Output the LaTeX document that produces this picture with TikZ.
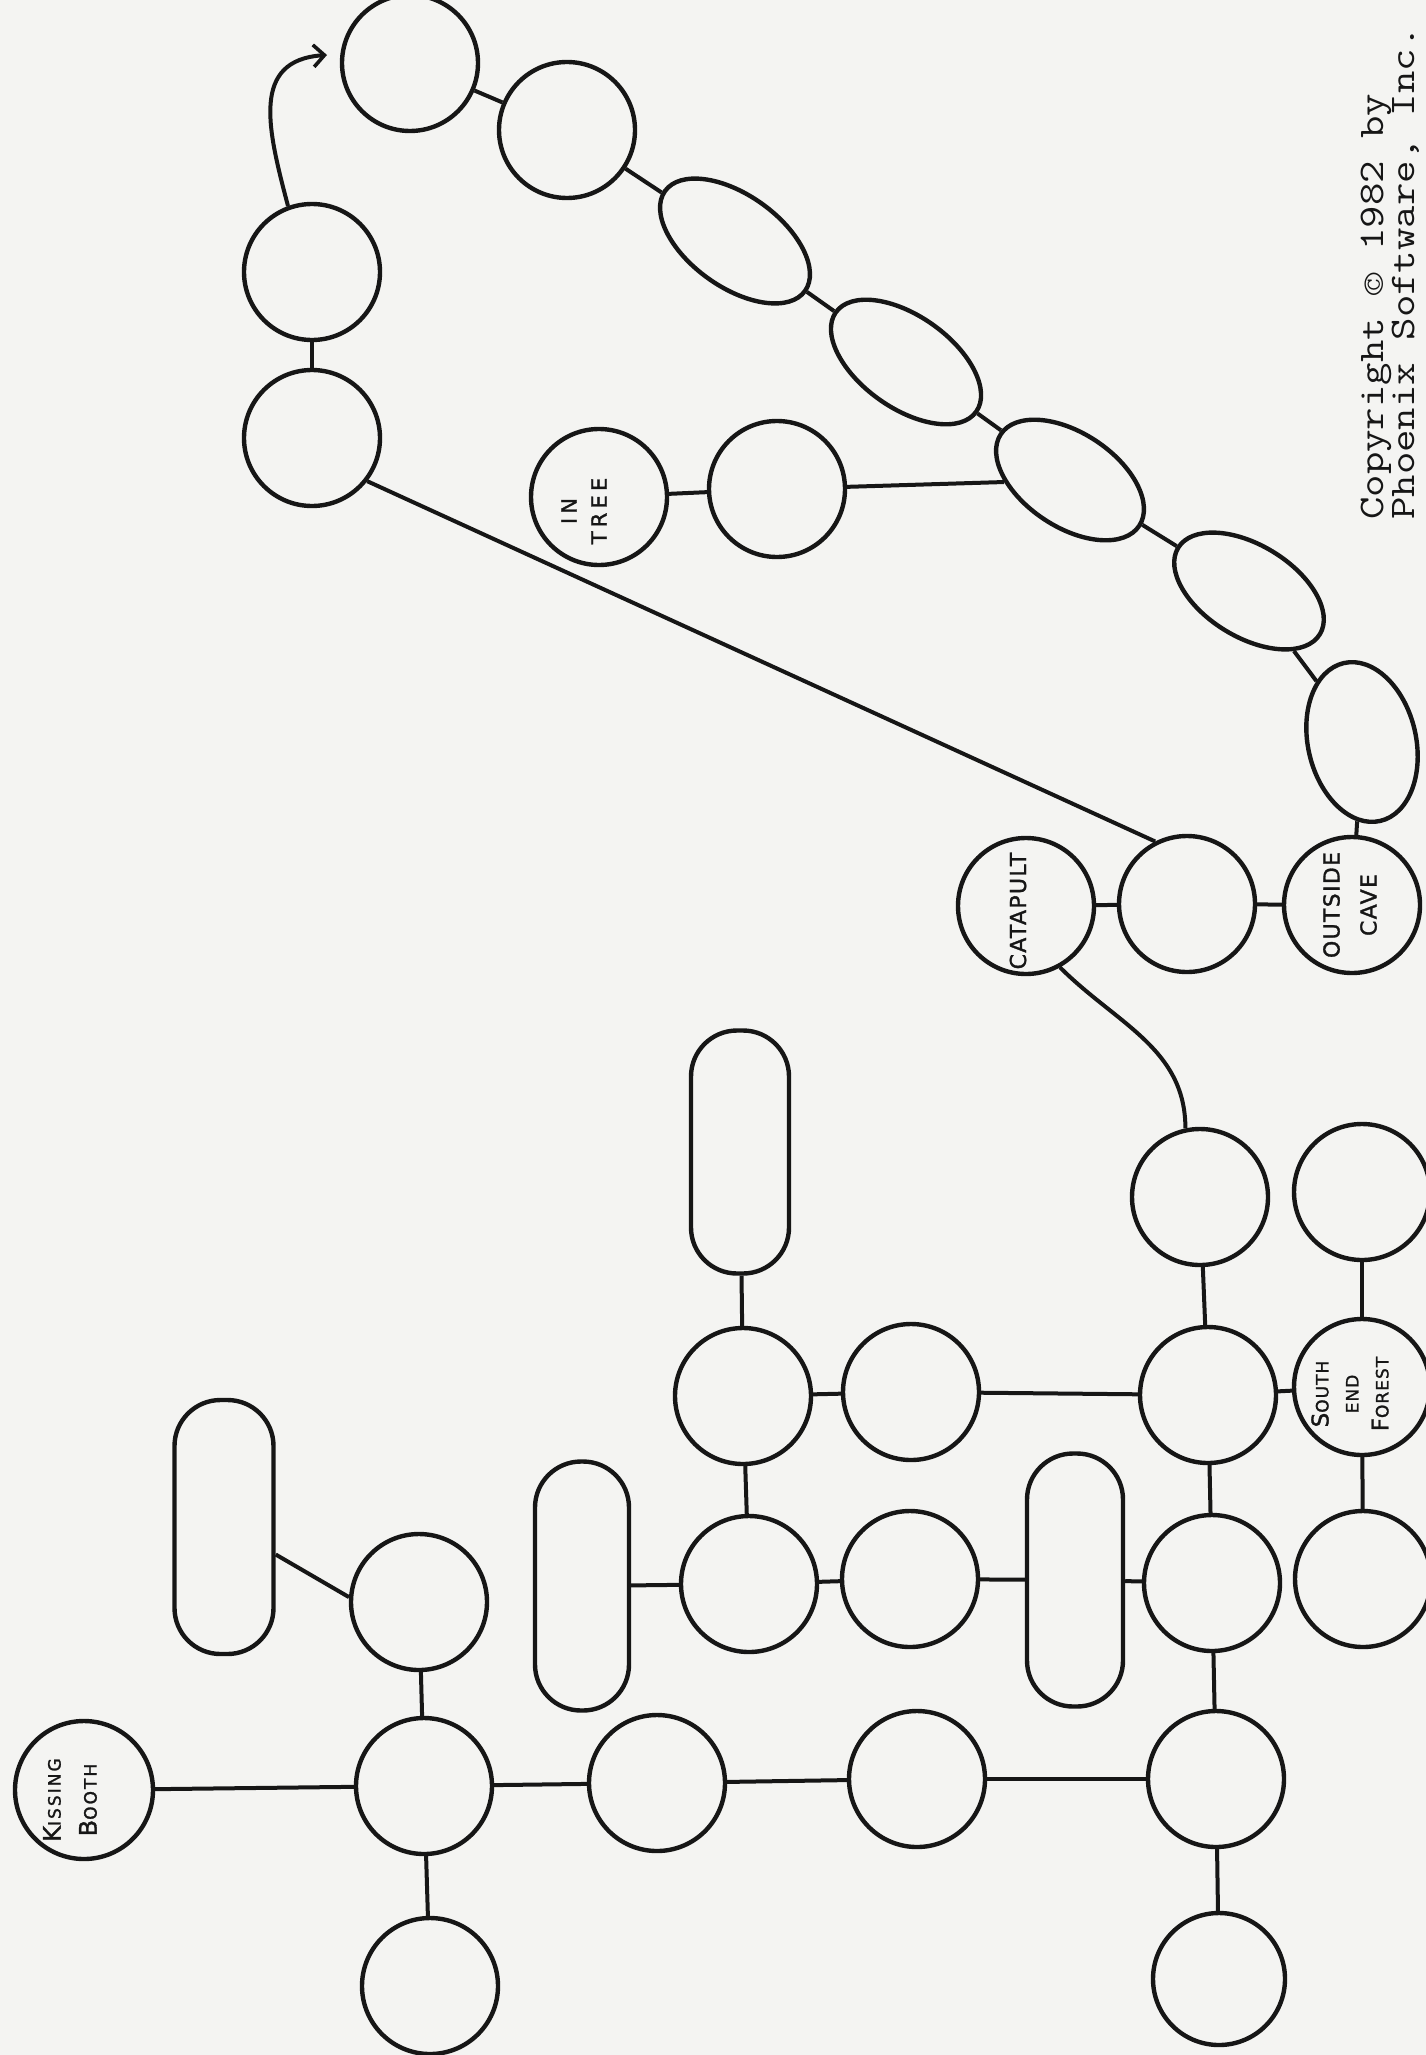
\documentclass[tikz,border=0pt]{standalone}
\usepackage{fontspec}
\setmainfont{DejaVu Sans}
\newfontfamily\hand[LetterSpace=6,FakeBold=1.4]{DejaVu Sans}
\usetikzlibrary{arrows.meta,shapes.geometric}
\definecolor{inkc}{RGB}{22,22,22}
\definecolor{paper}{RGB}{244,244,242}
\newcommand\smc[1]{{\fontsize{17}{17}\selectfont #1}}
\newcommand\typewriter{\ttfamily\fontsize{36}{31}\selectfont\addfontfeature{FakeBold=2.4}}
\begin{document}
\begin{tikzpicture}[x=1pt,y=-1pt,
  ink/.style={line width=4.4pt, draw=inkc},
  room/.style={circle, ink, minimum size=136pt, inner sep=0pt},
  lens/.style={ellipse, ink, inner sep=0pt},
  pill/.style={rectangle, ink, rounded corners=46pt, minimum width=96pt, minimum height=250pt, inner sep=0pt},
  link/.style={draw=inkc, line width=4pt},
  lab/.style={font=\hand\fontsize{22}{33}\selectfont, align=center, rotate=90, inner sep=0pt, text=inkc}]
\fill[paper] (0,0) rectangle (1426,2055);
\useasboundingbox (0,0) rectangle (1426,2055);
\clip (0,0) rectangle (1426,2055);

% top chain
\node[room] (a1) at (410,63) {};
\node[room] (a2) at (567,130) {};
\node[lens, minimum width=172pt, minimum height=92pt, rotate=-35.5] (a3) at (735,241) {};
\node[lens, minimum width=172pt, minimum height=92pt, rotate=-35.3] (a4) at (906,362) {};
\node[lens, minimum width=166pt, minimum height=94pt, rotate=-33.5] (a5) at (1070,480) {};
\node[lens, minimum width=166pt, minimum height=92pt, rotate=-31.4] (a6) at (1249,591) {};
\node[lens, minimum width=162pt, minimum height=108pt, rotate=-77] (a7) at (1362,742) {};

% left column
\node[room] (b2) at (312,272) {};
\node[room] (b1) at (312,438) {};
\coordinate (arrtip) at (327,55);

% in tree
\node[room] (intree) at (599,497) {};
\node[room] (it2) at (777,489) {};

% catapult row
\node[room] (cat) at (1026,906) {};
\node[room] (m) at (1187,904) {};
\node[room] (oc) at (1352,905) {};

\node[room] (c1) at (1200,1197) {};
\node[room] (c2) at (1362,1192) {};

\node[pill, minimum width=98pt, minimum height=243pt] (r1) at (740,1152) {};
\node[room] (d1) at (743,1396) {};
\node[room] (d2) at (911,1392) {};
\node[room] (e1) at (1208,1395) {};
\node[room] (sef) at (1362,1387) {};

\node[pill, minimum width=94pt, minimum height=249pt] (r2) at (582,1586) {};
\node[room] (f1) at (749,1584) {};
\node[room] (f2) at (910,1579) {};
\node[pill, minimum width=96pt, minimum height=253pt] (r3) at (1075,1580) {};
\node[room] (f3) at (1212,1583) {};
\node[room] (f4) at (1363,1579) {};

\node[pill, minimum width=99pt, minimum height=254pt] (g1) at (224,1527) {};
\node[room] (g2) at (419,1602) {};
\node[room, minimum size=138pt] (kb) at (84,1790) {};
\node[room] (h1) at (424,1786) {};
\node[room] (h2) at (430,1986) {};
\node[room] (h3) at (657,1783) {};
\node[room] (h4) at (917,1779) {};
\node[room] (h5) at (1216,1779) {};
\node[room, minimum size=132pt] (h6) at (1219,1979) {};

% labels
\node[lab, font=\hand\fontsize{24}{36}\selectfont\addfontfeature{LetterSpace=12}] (kbl) at (70,1800) {K\smc{ISSING}\\B\smc{OOTH}};
\node[lab, font=\hand\fontsize{21}{30}\selectfont\addfontfeature{LetterSpace=20}] (itl) at (584,511) {IN\\TREE};
\node[lab] (catl) at (1018,911) {CATAPULT};
\node[lab, font=\hand\fontsize{22}{37}\selectfont] (ocl) at (1350,905) {OUTSIDE\\CAVE};
\node[lab, font=\hand\fontsize{23}{30}\selectfont] (sefl) at (1350,1394) {S\smc{OUTH}\\\smc{END}\\F\smc{OREST}};

\node[rotate=90, anchor=north west, align=left, inner sep=0pt, text=inkc,
  font=\typewriter] (copy) at (1361,520)
  {\scalebox{1.21}[1]{Copyright \textcopyright{} 1982 by}\\\scalebox{1.21}[1]{Phoenix Software, Inc.}};

% connectors
\draw[link] (a1) -- (a2);
\draw[link] (a2) -- (a3);
\draw[link] (a3) -- (a4);
\draw[link] (a4) -- (a5);
\draw[link] (a5) -- (a6);
\draw[link] (a6) -- (a7);
\draw[link] (a7) -- (oc);
\draw[link] (b2) -- (b1);
\draw[link, -{Straight Barb[length=11pt,width=22pt,line width=3.6pt]}]
  (b2.110) .. controls (268,130) and (250,60) .. (arrtip);
\draw[link] (b1.-38) -- (m.117);
\draw[link] (intree) -- (it2);
\draw[link] (it2) -- (a5);
\draw[link] (cat) -- (m);
\draw[link] (m) -- (oc);
\draw[link] (cat.-61) to[out=-45, in=90] (c1.102);
\draw[link] (c1) -- (e1);
\draw[link] (c2) -- (sef);
\draw[link] (r1) -- (d1);
\draw[link] (d1) -- (d2);
\draw[link] (d2) -- (e1);
\draw[link] (e1) -- (sef);
\draw[link] (d1) -- (f1);
\draw[link] (e1) -- (f3);
\draw[link] (sef) -- (f4);
\draw[link] (r2) -- (f1);
\draw[link] (f1) -- (f2);
\draw[link] (f2) -- (r3);
\draw[link] (r3) -- (f3);
\draw[link] (f3) -- (h5);
\draw[link] (g1.-28) -- (g2.176);
\draw[link] (g2) -- (h1);
\draw[link] (kb) -- (h1);
\draw[link] (h1) -- (h2);
\draw[link] (h1) -- (h3);
\draw[link] (h3) -- (h4);
\draw[link] (h4) -- (h5);
\draw[link] (h5) -- (h6);
\end{tikzpicture}
\end{document}
